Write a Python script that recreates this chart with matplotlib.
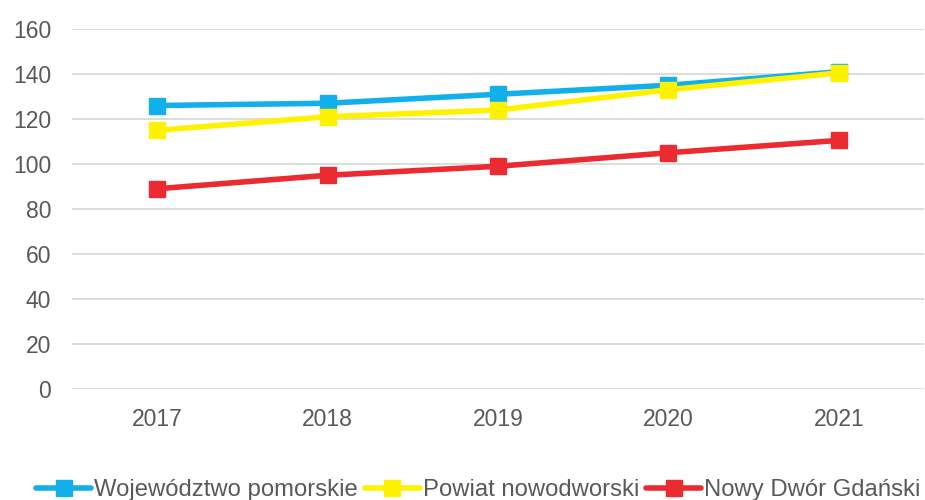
import matplotlib.pyplot as plt

plt.rcParams['font.family'] = ['Liberation Sans', 'DejaVu Sans']

years = ['2017', '2018', '2019', '2020', '2021']
wojewodztwo = [126, 127, 131, 135, 141]
powiat = [115, 121, 124, 133, 140.5]
nowy_dwor = [89, 95, 99, 105, 110.5]

series = [
    ('Województwo pomorskie', wojewodztwo, '#12b0ea'),
    ('Powiat nowodworski', powiat, '#fff200'),
    ('Nowy Dwór Gdański', nowy_dwor, '#ec2a32'),
]

fig = plt.figure(figsize=(9.25, 5), dpi=100)
ax = fig.add_axes([0.078, 0.222, 0.921, 0.72])

x = range(len(years))
for name, vals, col in series:
    ax.plot(x, vals, color=col, lw=4, marker='s', markersize=11,
            label=name, solid_capstyle='round')

ax.set_ylim(0, 160)
ax.set_yticks(range(0, 161, 20))
ax.set_xlim(-0.5, len(years) - 0.5)
ax.set_xticks(list(x))
ax.set_xticklabels(years)
ax.grid(axis='y', color='#d9d9d9', lw=1.3)
ax.set_axisbelow(True)
for s in ax.spines.values():
    s.set_visible(False)
ax.tick_params(length=0, labelsize=16.5, labelcolor='#595959')
ax.tick_params(axis='x', pad=14)
ax.tick_params(axis='y', pad=15)

fig.legend(loc='lower center', bbox_to_anchor=(0.517, -0.045), ncol=3, frameon=False,
           fontsize=17.2, handlelength=2.3, handletextpad=0.12,
           columnspacing=0.3, labelcolor='#595959')

fig.savefig('out.png', dpi=100)
